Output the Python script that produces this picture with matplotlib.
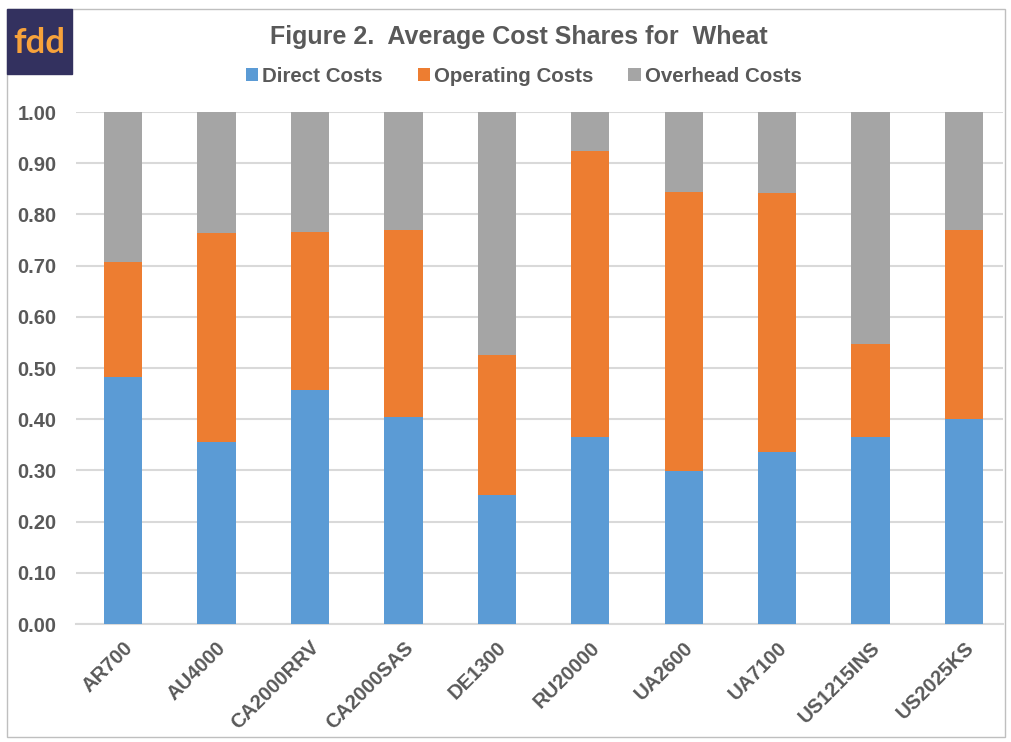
import matplotlib.pyplot as plt
from matplotlib.patches import Rectangle
import numpy as np

plt.rcParams['font.family'] = ['Liberation Sans', 'DejaVu Sans']

# Cost shares per farm
farms = ['AR700', 'AU4000', 'CA2000RRV', 'CA2000SAS', 'DE1300',
         'RU20000', 'UA2600', 'UA7100', 'US1215INS', 'US2025KS']
direct = [0.482, 0.355, 0.458, 0.404, 0.252, 0.366, 0.298, 0.336, 0.366, 0.400]
operating = [0.225, 0.408, 0.308, 0.366, 0.273, 0.558, 0.546, 0.506, 0.181, 0.370]
overhead = [1 - d - o for d, o in zip(direct, operating)]
yticks = [0.0, 0.1, 0.2, 0.3, 0.4, 0.5, 0.6, 0.7, 0.8, 0.9, 1.0]

text_col = '#595959'
colors = ['#5B9BD5', '#ED7D31', '#A5A5A5']

fig = plt.figure(figsize=(10.11, 7.42), dpi=100)
ax = fig.add_axes([76 / 1011, 1 - 624 / 742, 927 / 1011, 512 / 742])

x = np.arange(len(farms))
w = 0.41
ax.bar(x, direct, w, color=colors[0], label='Direct Costs', zorder=3)
ax.bar(x, operating, w, bottom=direct, color=colors[1], label='Operating Costs', zorder=3)
bottom2 = [d + o for d, o in zip(direct, operating)]
ax.bar(x, overhead, w, bottom=bottom2, color=colors[2], label='Overhead Costs', zorder=3)

ax.set_xlim(-0.503, 9.417)
ax.set_ylim(0, 1.0)
ax.set_yticks(yticks)
ax.set_yticklabels([f'{v:.2f}' for v in yticks])
ax.set_xticks(x)
ax.set_xticklabels(farms, rotation=45, ha='right', rotation_mode='anchor')
ax.tick_params(axis='both', length=0, labelsize=14.5, labelcolor=text_col)
ax.tick_params(axis='y', pad=14)
ax.tick_params(axis='x', pad=10)
for lbl in ax.get_xticklabels() + ax.get_yticklabels():
    lbl.set_fontweight('bold')

ax.grid(axis='y', color='#D9D9D9', linewidth=1.5, zorder=0)
for s in ['top', 'right', 'left']:
    ax.spines[s].set_visible(False)
ax.spines['bottom'].set_color('#D9D9D9')
ax.spines['bottom'].set_linewidth(1.5)

fig.text(0.513, 1 - 37 / 742, 'Figure 2.  Average Cost Shares for  Wheat',
         ha='center', va='center', fontsize=18, fontweight='bold', color=text_col)
fig.legend(loc='center', bbox_to_anchor=(0.518, 1 - 76 / 742), ncol=3, frameon=False,
           prop={'size': 14.8, 'weight': 'bold'}, labelcolor=text_col,
           handlelength=0.6, handleheight=0.6, handletextpad=0.2, columnspacing=1.7)

# outer frame and logo
fig.patches.append(Rectangle((7 / 1011, 1 - 737 / 742), 998 / 1011, 728 / 742,
                             transform=fig.transFigure, fill=False,
                             edgecolor='#BFBFBF', linewidth=1))
fig.patches.append(Rectangle((7 / 1011, 1 - 74 / 742), 65 / 1011, 65 / 742,
                             transform=fig.transFigure, color='#33315F'))
fig.text(39.5 / 1011, 1 - 43 / 742, 'fdd', ha='center', va='center',
         fontsize=25, fontweight='bold', color='#F7A23B', family='Lato')

fig.savefig('out.png', dpi=100)
